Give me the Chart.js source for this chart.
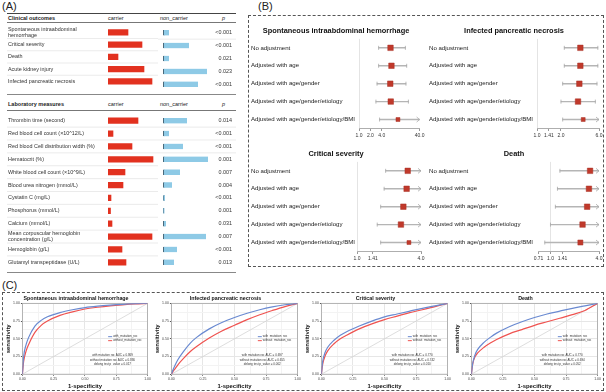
<!DOCTYPE html>
<html>
<head>
<meta charset="utf-8">
<script src="https://cdn.jsdelivr.net/npm/chart.js@4.4.1/dist/chart.umd.min.js"></script>
<style>
  body { margin: 0; width: 606px; height: 392px; position: relative; overflow: hidden; background: #fff;
         font-family: "Liberation Sans", Arial, sans-serif; color: #222; }
  canvas, .t, .ln, .box { position: absolute; }
  .t { white-space: nowrap; line-height: 1; }
  .panel { font-size: 11px; }
  .hd { font-size: 5.5px; font-weight: bold; }
  .ln { height: 0; }
  .box { border: 1.5px dashed #555; box-sizing: border-box; }
</style>
</head>
<body>
<div class="t panel" style="left:2px;top:1px">(A)</div>
<div class="t panel" style="left:258px;top:1px">(B)</div>
<div class="t panel" style="left:2px;top:280px">(C)</div>

<!-- table (A) frame -->
<div class="ln" style="left:7px;top:13px;width:229px;border-top:1.5px solid #444"></div>
<div class="t hd" style="left:8px;top:16px">Clinical outcomes</div>
<div class="t hd" style="left:108px;top:16px;font-weight:normal">carrier</div>
<div class="t hd" style="left:160px;top:16px;font-weight:normal">non_carrier</div>
<div class="t hd" style="left:222px;top:16px;font-weight:normal;font-style:italic">p</div>
<div class="ln" style="left:7px;top:22px;width:229px;border-top:0.8px solid #777"></div>
<div class="ln" style="left:7px;top:94px;width:229px;border-top:1.5px solid #888"></div>
<div class="t hd" style="left:8px;top:102px">Laboratory measures</div>
<div class="t hd" style="left:108px;top:102px;font-weight:normal">carrier</div>
<div class="t hd" style="left:160px;top:102px;font-weight:normal">non_carrier</div>
<div class="t hd" style="left:222px;top:102px;font-weight:normal;font-style:italic">p</div>
<div class="ln" style="left:7px;top:109.5px;width:229px;border-top:0.8px solid #777"></div>
<div class="ln" style="left:7px;top:271.5px;width:229px;border-top:1.5px solid #888"></div>

<canvas id="clinC" width="151" height="71" style="left:7px;top:23px"></canvas>
<canvas id="clinN" width="78" height="71" style="left:158px;top:23px"></canvas>
<canvas id="labC" width="151" height="161" style="left:7px;top:110.5px"></canvas>
<canvas id="labN" width="78" height="161" style="left:158px;top:110.5px"></canvas>

<div class="box" style="left:248px;top:15px;width:356px;height:252px"></div>
<canvas id="fSih" width="178" height="118" style="left:248px;top:22px"></canvas>
<canvas id="fIpn" width="178" height="118" style="left:426px;top:22px"></canvas>
<canvas id="fCrit" width="178" height="118" style="left:248px;top:144.5px"></canvas>
<canvas id="fDeath" width="178" height="118" style="left:426px;top:144.5px"></canvas>

<div class="box" style="left:2px;top:292px;width:602px;height:99px"></div>
<canvas id="rSih" width="149" height="96" style="left:3px;top:294px"></canvas>
<canvas id="rIpn" width="150" height="96" style="left:152px;top:294px"></canvas>
<canvas id="rCrit" width="150" height="96" style="left:302px;top:294px"></canvas>
<canvas id="rDeath" width="150" height="96" style="left:452px;top:294px"></canvas>

<script>
// ---- (A) table values (relative bar lengths) ----
var clinicalLabels = [["Spontaneous intraabdominal", "hemorrhage"], "Critical severity", "Death",
  "Acute kidney injury", "Infected pancreatic necrosis"];
var clinicalCarrier = [20, 34, 10, 36, 44];
var clinicalNonCarrier = [6, 26, 6, 44, 35];
var clinicalP = ["<0.001", "<0.001", "0.021", "0.023", "<0.001"];

var labLabels = ["Thrombin time (second)", "Red blood cell count (×10^12/L)",
  "Red blood Cell distribution width (%)", "Hematocrit (%)", "White blood cell count (×10^9/L)",
  "Blood urea nitrogen (mmol/L)", "Cystatin C (mg/L)", "Phosphorus (mmol/L)", "Calcium (mmol/L)",
  ["Mean corpuscular hemoglobin", "concentration (g/L)"], "Hemoglobin (g/L)", "Glutamyl transpeptidase (U/L)"];
var labCarrier = [30, 5, 24, 45, 17, 15, 3, 2.5, 4, 44, 14, 18];
var labNonCarrier = [24, 6, 20, 45, 17, 9, 1.7, 1.5, 3, 43, 14, 11];
var labP = ["0.014", "<0.001", "<0.001", "0.001", "0.007", "0.004", "<0.001", "0.001", "0.031", "0.007", "<0.001", "0.013"];

// ---- (B) forest plots: odds ratio with 95% CI ----
var adjustLabels = ["No adjustment", "Adjusted with age", "Adjusted with age/gender",
  "Adjusted with age/gender/etiology", "Adjusted with age/gender/etiology/BMI"];
var sihOr = [6.8, 7.2, 6.7, 6.9, 10.7];
var sihLow = [3.3, 3.3, 3.0, 2.8, 3.5];
var sihHigh = [16.8, 18.2, 17.4, 20.2, 55];
var sihTicks = [1, 2, 4, 40];
var sihTickLabels = ["1.0", "2.0", "4.0", "40.0"];

var ipnOr = [3.5, 3.5, 3.4, 3.27, 3.8];
var ipnLow = [2.2, 2.2, 2.1, 2.0, 2.1];
var ipnHigh = [5.8, 5.8, 5.66, 5.4, 7.2];
var ipnTicks = [1, 1.41, 2, 6];
var ipnTickLabels = ["1.0", "1.41", "2.0", "6.0"];

var critOr = [3.0, 2.93, 2.73, 2.59, 3.08];
var critLow = [1.86, 1.8, 1.67, 1.55, 1.67];
var critHigh = [5.2, 5.3, 5.2, 5.4, 5.6];
var critTicks = [1, 1.41, 4];
var critTickLabels = ["1.0", "1.41", "4.0"];

var deathOr = [3.1, 3.0, 2.85, 2.5, 2.35];
var deathLow = [1.31, 1.22, 1.15, 1.0, 0.85];
var deathHigh = [5.6, 5.6, 5.5, 5.5, 5.4];
var deathTicks = [0.71, 1, 1.41, 4];
var deathTickLabels = ["0.71", "1.0", "1.41", "4.0"];

// ---- (C) ROC curves ----
var fpr = [0, 0.01, 0.03, 0.05, 0.1, 0.15, 0.2, 0.3, 0.4, 0.5, 0.6, 0.7, 0.8, 0.9, 1];
var sihWith = [0, 0.25, 0.42, 0.52, 0.68, 0.76, 0.81, 0.87, 0.91, 0.94, 0.96, 0.975, 0.987, 0.995, 1];
var sihWithout = [0, 0.18, 0.33, 0.42, 0.59, 0.69, 0.75, 0.83, 0.88, 0.92, 0.945, 0.965, 0.98, 0.992, 1];
var ipnWith = [0, 0.05, 0.13, 0.2, 0.33, 0.44, 0.52, 0.64, 0.73, 0.8, 0.86, 0.91, 0.95, 0.98, 1];
var ipnWithout = [0, 0.03, 0.08, 0.13, 0.23, 0.32, 0.39, 0.51, 0.61, 0.69, 0.77, 0.84, 0.9, 0.955, 1];
var critWith = [0, 0.18, 0.31, 0.38, 0.48, 0.55, 0.6, 0.68, 0.75, 0.81, 0.85, 0.89, 0.93, 0.965, 1];
var critWithout = [0, 0.14, 0.26, 0.33, 0.43, 0.5, 0.55, 0.64, 0.71, 0.77, 0.82, 0.87, 0.91, 0.955, 1];
var deathWith = [0, 0.15, 0.28, 0.35, 0.45, 0.52, 0.58, 0.67, 0.74, 0.8, 0.85, 0.89, 0.93, 0.965, 1];
var deathWithout = [0, 0.14, 0.25, 0.3, 0.38, 0.44, 0.49, 0.57, 0.63, 0.69, 0.74, 0.79, 0.84, 0.9, 1];
var rocNames = ["with_mutation_roc", "without_mutation_roc"];
var sihNote = ["with mutation roc AUC = 0.869", "without mutation roc AUC = 0.836", "delong test p_value = 0.017"];
var ipnNote = ["with mutation roc AUC = 0.697", "without mutation roc AUC = 0.655", "delong test p_value = 0.002"];
var critNote = ["with mutation roc AUC = 0.770", "without mutation roc AUC = 0.742", "delong test p_value = 0.010"];
var deathNote = ["with mutation roc AUC = 0.770", "without mutation roc AUC = 0.694", "delong test p_value = 0.052"];

Chart.defaults.font.family = '"Liberation Sans", Arial, sans-serif';
Chart.defaults.color = '#333';
Chart.defaults.animation = false;
Chart.defaults.plugins.legend.display = false;
Chart.defaults.plugins.tooltip.enabled = false;

// light separators between table rows
var rowLines = {
  id: 'rowLines',
  beforeDatasetsDraw(chart) {
    var s = chart.scales.y, ctx = chart.ctx;
    ctx.save();
    ctx.strokeStyle = '#e2e2e2';
    ctx.lineWidth = 0.7;
    for (var i = 0; i < s.ticks.length - 1; i++) {
      var y = (s.getPixelForValue(i) + s.getPixelForValue(i + 1)) / 2;
      ctx.beginPath(); ctx.moveTo(0, y); ctx.lineTo(chart.width, y); ctx.stroke();
    }
    ctx.restore();
  }
};

function carrierChart(id, labels, values) {
  new Chart(document.getElementById(id), {
    type: 'bar',
    data: { labels: labels, datasets: [{ data: values, backgroundColor: '#e2311f', barThickness: 5.5 }] },
    options: {
      indexAxis: 'y', responsive: false,
      layout: { padding: { left: 1 } },
      scales: {
        x: { display: false, min: 0, max: 50 },
        y: {
          border: { display: false }, grid: { display: false },
          ticks: { crossAlign: 'far', autoSkip: false, padding: 0, color: '#333', font: { size: 5.4 } },
          afterFit: function (s) { s.width = 100; }
        }
      }
    },
    plugins: [rowLines]
  });
}

function nonCarrierChart(id, labels, values, pvals) {
  new Chart(document.getElementById(id), {
    type: 'bar',
    data: { labels: labels, datasets: [{ data: values, backgroundColor: '#8ecae6', borderColor: '#3f5a6b',
      borderWidth: { left: 1.2, right: 0, top: 0, bottom: 0 }, borderSkipped: false, barThickness: 5.5 }] },
    options: {
      indexAxis: 'y', responsive: false,
      layout: { padding: { left: 5, right: 4 } },
      scales: {
        x: { display: false, min: 0, max: 50 },
        y: { display: false },
        yp: {
          type: 'category', position: 'right', labels: pvals, offset: true,
          border: { display: false }, grid: { display: false },
          ticks: { crossAlign: 'far', autoSkip: false, padding: 0, color: '#333', font: { size: 5.4 } },
          afterFit: function (s) { s.width = 19; }
        }
      }
    },
    plugins: [rowLines]
  });
}

carrierChart('clinC', clinicalLabels, clinicalCarrier);
nonCarrierChart('clinN', clinicalLabels, clinicalNonCarrier, clinicalP);
carrierChart('labC', labLabels, labCarrier);
nonCarrierChart('labN', labLabels, labNonCarrier, labP);

// error-bar caps, arrows when the interval runs past the axis
var whiskers = {
  id: 'whiskers',
  afterDatasetsDraw(chart) {
    var meta = chart.getDatasetMeta(1), s = chart.scales.x, ctx = chart.ctx, area = chart.chartArea;
    var ci = chart.data.datasets[1].data;
    ctx.save();
    ctx.strokeStyle = '#a8a8a8';
    ctx.lineWidth = 0.8;
    meta.data.forEach(function (bar, i) {
      var y = bar.y, x0 = s.getPixelForValue(ci[i][0]);
      ctx.beginPath();
      ctx.moveTo(x0, y - 2); ctx.lineTo(x0, y + 2);
      if (ci[i][1] > s.max) {
        var xr = area.right;
        ctx.moveTo(xr - 3, y - 2.5); ctx.lineTo(xr, y); ctx.lineTo(xr - 3, y + 2.5);
      } else {
        var x1 = s.getPixelForValue(ci[i][1]);
        ctx.moveTo(x1, y - 2); ctx.lineTo(x1, y + 2);
      }
      ctx.stroke();
    });
    ctx.restore();
  }
};

function forest(id, title, or, low, high, ticks, tickLabels, min, max, sizes, axisW, padL) {
  new Chart(document.getElementById(id), {
    type: 'bar',
    data: {
      labels: adjustLabels,
      datasets: [
        { type: 'scatter', data: or.map(function (v, i) { return { x: v, y: adjustLabels[i] }; }),
          pointStyle: 'rect', pointRadius: sizes, backgroundColor: '#c0392b', borderColor: '#a93226', borderWidth: 0.5 },
        { data: low.map(function (v, i) { return [v, high[i]]; }), backgroundColor: '#b5b5b5', barThickness: 0.8 }
      ]
    },
    options: {
      indexAxis: 'y', responsive: false,
      layout: { padding: { left: padL, right: 5, bottom: 0 } },
      scales: {
        x: {
          type: 'logarithmic', min: min, max: max,
          afterBuildTicks: function (s) { s.ticks = ticks.map(function (v) { return { value: v }; }); },
          ticks: { autoSkip: false, maxRotation: 0, padding: 1.5, color: '#333', font: { size: 5 },
            callback: function (v, i) { return tickLabels[i]; } },
          grid: { color: function (c) { return c.tick && c.tick.value === 1 ? '#e4e4e4' : 'rgba(0,0,0,0)'; },
            tickColor: '#999', tickLength: 2.5 },
          border: { display: true, color: '#999', width: 0.8 }
        },
        y: {
          border: { display: false }, grid: { display: false },
          ticks: { crossAlign: 'far', autoSkip: false, padding: 0, color: '#222', font: { size: 6.1 } },
          afterFit: function (s) { s.width = axisW; }
        }
      },
      plugins: {
        title: { display: true, text: title, color: '#111', font: { size: 7.4, weight: 'bold' }, padding: { top: 5, bottom: 3 } }
      }
    },
    plugins: [whiskers]
  });
}

var bigMarks = [3.9, 3.9, 3.9, 3.9, 2.8];
forest('fSih', 'Spontaneous intraabdominal hemorrhage', sihOr, sihLow, sihHigh, sihTicks, sihTickLabels, 1, 40, bigMarks, 108, 3);
forest('fIpn', 'Infected pancreatic necrosis', ipnOr, ipnLow, ipnHigh, ipnTicks, ipnTickLabels, 1, 6, bigMarks, 108, 3);
forest('fCrit', 'Critical severity', critOr, critLow, critHigh, critTicks, critTickLabels, 1, 4, bigMarks, 106, 3);
forest('fDeath', 'Death', deathOr, deathLow, deathHigh, deathTicks, deathTickLabels, 0.71, 4, [3.9, 3.9, 3.9, 3.9, 3.6], 109, 3);

// ROC panel frame, inset legend and AUC note
var rocExtras = {
  id: 'rocExtras',
  beforeDatasetsDraw(chart) {
    var a = chart.chartArea, ctx = chart.ctx;
    ctx.save();
    ctx.strokeStyle = '#a6a6a6';
    ctx.lineWidth = 0.8;
    ctx.strokeRect(a.left, a.top, a.width, a.height);
    ctx.restore();
  },
  afterDatasetsDraw(chart, args, opts) {
    var a = chart.chartArea, ctx = chart.ctx;
    ctx.save();
    ctx.font = '3px "Liberation Sans", Arial, sans-serif';
    ctx.textBaseline = 'middle';
    for (var i = 0; i < 2; i++) {
      var ds = chart.data.datasets[i];
      var lx = a.left + a.width * 0.685, ly = a.top + a.height * 0.47 + i * 4;
      ctx.strokeStyle = ds.borderColor; ctx.lineWidth = 1;
      ctx.beginPath(); ctx.moveTo(lx, ly); ctx.lineTo(lx + 4, ly); ctx.stroke();
      ctx.fillStyle = '#333'; ctx.textAlign = 'left';
      ctx.fillText(ds.label, lx + 5, ly);
    }
    ctx.textAlign = 'center';
    opts.note.forEach(function (line, i) {
      ctx.fillText(line, a.left + a.width * 0.72, a.top + a.height * 0.735 + i * 4.5);
    });
    ctx.restore();
  }
};

function rocAxis(titleText) {
  return {
    type: 'linear', min: 0, max: 1,
    ticks: { stepSize: 0.125, autoSkip: false, maxRotation: 0, padding: 1, color: '#444', font: { size: 3.5 },
      callback: function (v) { return (v * 4) % 1 === 0 ? v.toFixed(2) : ''; } },
    grid: {
      color: function (c) { return c.tick && (c.tick.value * 4) % 1 === 0 ? '#e6e6e6' : '#f3f3f3'; },
      tickColor: function (c) { return c.tick && (c.tick.value * 4) % 1 === 0 ? '#555' : 'rgba(0,0,0,0)'; },
      tickLength: 1.5
    },
    border: { display: false },
    title: { display: true, text: titleText, color: '#111', font: { size: 5.9, weight: 'bold' }, padding: 0.5 }
  };
}

function roc(id, title, withTpr, withoutTpr, note) {
  new Chart(document.getElementById(id), {
    type: 'line',
    data: {
      datasets: [
        { label: rocNames[0], data: fpr.map(function (x, i) { return { x: x, y: withTpr[i] }; }), borderColor: '#6a8ad1' },
        { label: rocNames[1], data: fpr.map(function (x, i) { return { x: x, y: withoutTpr[i] }; }), borderColor: '#ef5350' },
        { label: 'reference', data: [{ x: 0, y: 0 }, { x: 1, y: 1 }], borderColor: '#cfcfcf', borderWidth: 0.7 }
      ]
    },
    options: {
      responsive: false,
      elements: { point: { radius: 0 }, line: { borderWidth: 1.2, cubicInterpolationMode: 'monotone' } },
      layout: { padding: { right: 4, left: 1 } },
      scales: { x: rocAxis('1-specificity'), y: rocAxis('sensitivity') },
      plugins: {
        title: { display: true, text: title, color: '#111', font: { size: 5.3, weight: 'bold' }, padding: { top: 1.5, bottom: 1.5 } },
        rocExtras: { note: note }
      }
    },
    plugins: [rocExtras]
  });
}

roc('rSih', 'Spontaneous intraabdominal hemorrhage', sihWith, sihWithout, sihNote);
roc('rIpn', 'Infected pancreatic necrosis', ipnWith, ipnWithout, ipnNote);
roc('rCrit', 'Critical severity', critWith, critWithout, critNote);
roc('rDeath', 'Death', deathWith, deathWithout, deathNote);
</script>
</body>
</html>
